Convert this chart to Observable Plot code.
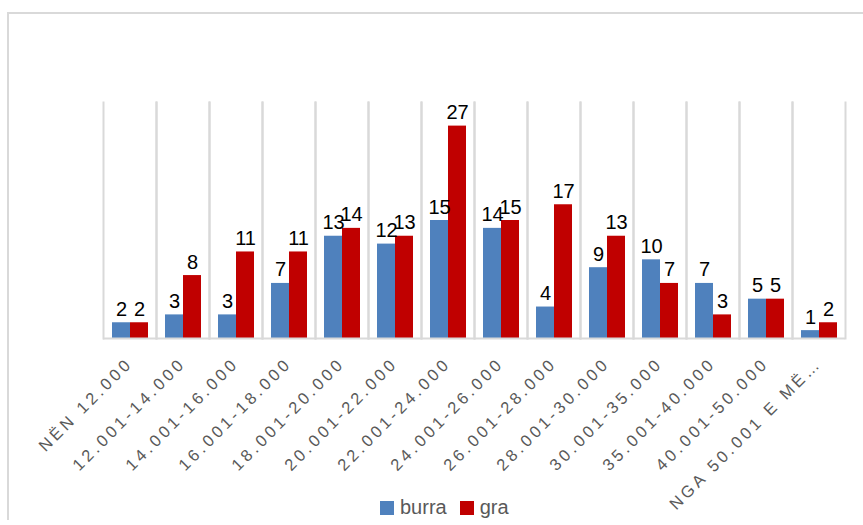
<!DOCTYPE html>
<html>
<head>
<meta charset="utf-8">
<script src="https://cdn.jsdelivr.net/npm/d3@7"></script>
<script src="https://cdn.jsdelivr.net/npm/@observablehq/plot@0.6"></script>
<style>
  html, body { margin: 0; padding: 0; background: #fff; }
  body { width: 863px; height: 525px; overflow: hidden; position: relative; font-family: "Liberation Sans", Arial, sans-serif; }
  #border { position: absolute; left: 7px; top: 12px; width: 900px; height: 508px; border-left: 2px solid #D9D9D9; border-top: 2px solid #D9D9D9; box-sizing: border-box; }
  #chart { position: absolute; left: 0; top: 0; }
  #chart g[aria-label="fx-axis tick label"] text { letter-spacing: 3.5px; }
  #legend { position: absolute; top: 496px; left: 380px; display: flex; align-items: center; font-size: 20px; color: #595959; }
  #legend .sw { width: 14px; height: 14px; display: inline-block; margin-right: 6px; }
  #legend .item { display: flex; align-items: center; margin-right: 13px; }
</style>
</head>
<body>
<div id="border"></div>
<div id="chart"></div>
<div id="legend"></div>
<script>
const categories = ["NËN 12.000", "12.001-14.000", "14.001-16.000", "16.001-18.000", "18.001-20.000", "20.001-22.000", "22.001-24.000", "24.001-26.000", "26.001-28.000", "28.001-30.000", "30.001-35.000", "35.001-40.000", "40.001-50.000", "NGA 50.001 E MË…"];
const burra = [2, 3, 3, 7, 13, 12, 15, 14, 4, 9, 10, 7, 5, 1];
const gra = [2, 8, 11, 11, 14, 13, 27, 15, 17, 13, 7, 3, 5, 2];
const series = ["burra", "gra"];
const colors = ["#4F81BD", "#C00000"];

const data = categories.flatMap((c, i) => [
  {cat: c, sex: "burra", value: burra[i]},
  {cat: c, sex: "gra", value: gra[i]}
]);

const chart = Plot.plot({
  width: 863,
  height: 490,
  marginLeft: 102,
  marginRight: 18,
  marginTop: 102,
  marginBottom: 152,
  style: {fontFamily: "Liberation Sans, Arial, sans-serif", background: "transparent", overflow: "visible"},
  fx: {domain: categories, padding: 0, label: null, axis: null},
  x: {domain: series, axis: null, paddingInner: 0, paddingOuter: 0.4},
  y: {domain: [0, 30], axis: null},
  color: {domain: series, range: colors},
  marks: [
    Plot.frame({anchor: "left", stroke: "#D9D9D9", strokeWidth: 2}),
    Plot.frame({anchor: "right", stroke: "#D9D9D9", strokeWidth: 2}),
    Plot.barY(data, {fx: "cat", x: "sex", y: "value", fill: "sex"}),
    Plot.ruleY([0], {stroke: "#D9D9D9", strokeWidth: 2}),
    Plot.text(data, {fx: "cat", x: "sex", y: "value", text: d => String(d.value), lineAnchor: "bottom", dy: -7, fontSize: 20, fill: "#000"}),
    Plot.axisFx({anchor: "bottom", tickRotate: -45, tickSize: 0, tickPadding: 22, fontSize: 16.5, fill: "#595959", label: null})
  ]
});
document.getElementById("chart").appendChild(chart);

const legend = document.getElementById("legend");
series.forEach((s, i) => {
  const item = document.createElement("span");
  item.className = "item";
  const sw = document.createElement("span");
  sw.className = "sw";
  sw.style.background = colors[i];
  item.appendChild(sw);
  item.appendChild(document.createTextNode(s));
  legend.appendChild(item);
});
</script>
</body>
</html>
